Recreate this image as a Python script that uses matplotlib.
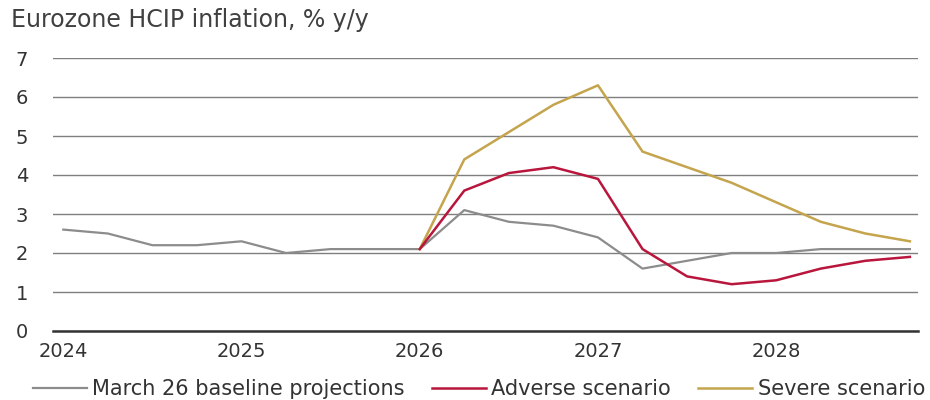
import matplotlib.pyplot as plt
import numpy as np

# Quarterly, 2024Q1 .. 2028Q4
quarters = [f"{y}Q{q}" for y in range(2024, 2029) for q in range(1, 5)]
year_labels = ["2024", "2025", "2026", "2027", "2028"]

baseline = [2.6, 2.5, 2.2, 2.2, 2.3, 2.0, 2.1, 2.1, 2.1, 3.1, 2.8, 2.7,
            2.4, 1.6, 1.8, 2.0, 2.0, 2.1, 2.1, 2.1]
# scenarios branch off the baseline from 2026Q1
adverse = [np.nan] * 8 + [2.1, 3.6, 4.05, 4.2, 3.9, 2.1, 1.4, 1.2, 1.3, 1.6, 1.8, 1.9]
severe = [np.nan] * 8 + [2.1, 4.4, 5.1, 5.8, 6.3, 4.6, 4.2, 3.8, 3.3, 2.8, 2.5, 2.3]

plt.rcParams["font.family"] = ["DejaVu Sans"]

fig = plt.figure(figsize=(9.3, 4.0), dpi=100)
ax = fig.add_axes([0.057, 0.1725, 0.93, 0.6825])

x = np.arange(len(quarters))
ax.plot(x, baseline, color="#8c8c8c", linewidth=1.6, label="March 26 baseline projections", zorder=3)
ax.plot(x, severe, color="#c4a44c", linewidth=1.8, label="Severe scenario", zorder=4)
ax.plot(x, adverse, color="#b8163c", linewidth=1.8, label="Adverse scenario", zorder=5)

ax.set_ylim(0, 7)
ax.set_xlim(-0.23, 19.18)
ax.set_yticks(range(0, 8))
ax.set_xticks(x[::4])
ax.set_xticklabels(year_labels)

ax.grid(axis="y", color="#7f7f7f", linewidth=1.0)
ax.set_axisbelow(True)
for side in ["top", "right", "left"]:
    ax.spines[side].set_visible(False)
ax.spines["bottom"].set_color("#333333")
ax.spines["bottom"].set_linewidth(1.8)
ax.tick_params(axis="both", length=0, labelsize=14, colors="#333333")
ax.tick_params(axis="y", pad=18)
ax.tick_params(axis="x", pad=8)

fig.text(0.012, 0.95, "Eurozone HCIP inflation, % y/y", fontsize=17,
         color="#404040", ha="left", va="center")

handles, labels = ax.get_legend_handles_labels()
order = [0, 2, 1]
fig.legend([handles[i] for i in order], [labels[i] for i in order],
           loc="center", bbox_to_anchor=(0.515, 0.027), ncol=3, frameon=False,
           fontsize=15, handlelength=2.6, handletextpad=0.25, columnspacing=1.3,
           labelcolor="#333333")

fig.savefig("out.png", dpi=100)
